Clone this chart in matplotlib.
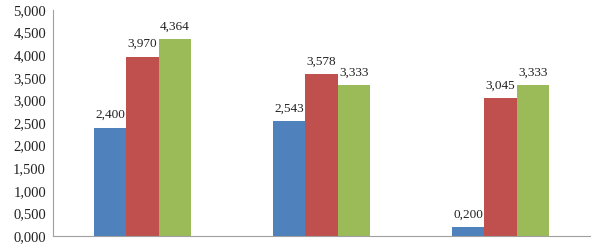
import matplotlib
matplotlib.use("Agg")
import numpy as np
from matplotlib import pyplot as plt

groups = ["A", "B", "C"]
blue_vals = [2.400, 2.543, 0.200]
red_vals = [3.970, 3.578, 3.045]
green_vals = [4.364, 3.333, 3.333]
yticks = [0.0, 0.5, 1.0, 1.5, 2.0, 2.5, 3.0, 3.5, 4.0, 4.5, 5.0]

plt.rcParams['font.family'] = ['Liberation Serif', 'DejaVu Serif']

fig = plt.figure(figsize=(5.91, 2.46), dpi=100)
ax = fig.add_axes([53/591, 10/246, 537/591, 226/246])

x = np.arange(len(groups))
w = 0.18
series = [(blue_vals, "#4F81BD", -w), (red_vals, "#C0504D", 0), (green_vals, "#9BBB59", w)]
for vals, col, off in series:
    bars = ax.bar(x + off, vals, width=w, color=col, linewidth=0)
    for b, v in zip(bars, vals):
        ax.text(b.get_x() + b.get_width()/2, v + 0.14, f"{v:.3f}".replace(".", ","),
                ha="center", va="bottom", fontsize=9.5, color="#222222")

ax.set_xlim(-0.5, 2.5)
ax.set_ylim(0, 5)
ax.set_yticks(yticks)
ax.set_yticklabels([f"{t:.3f}".replace(".", ",") for t in yticks], fontsize=10.5, color="#222222")
ax.set_xticks([])
ax.tick_params(axis="y", length=0, pad=5)
for s in ["top", "right"]:
    ax.spines[s].set_visible(False)
ax.spines["left"].set_color("#A0A0A0")
ax.spines["bottom"].set_color("#A0A0A0")

fig.savefig("out.png", dpi=100)
